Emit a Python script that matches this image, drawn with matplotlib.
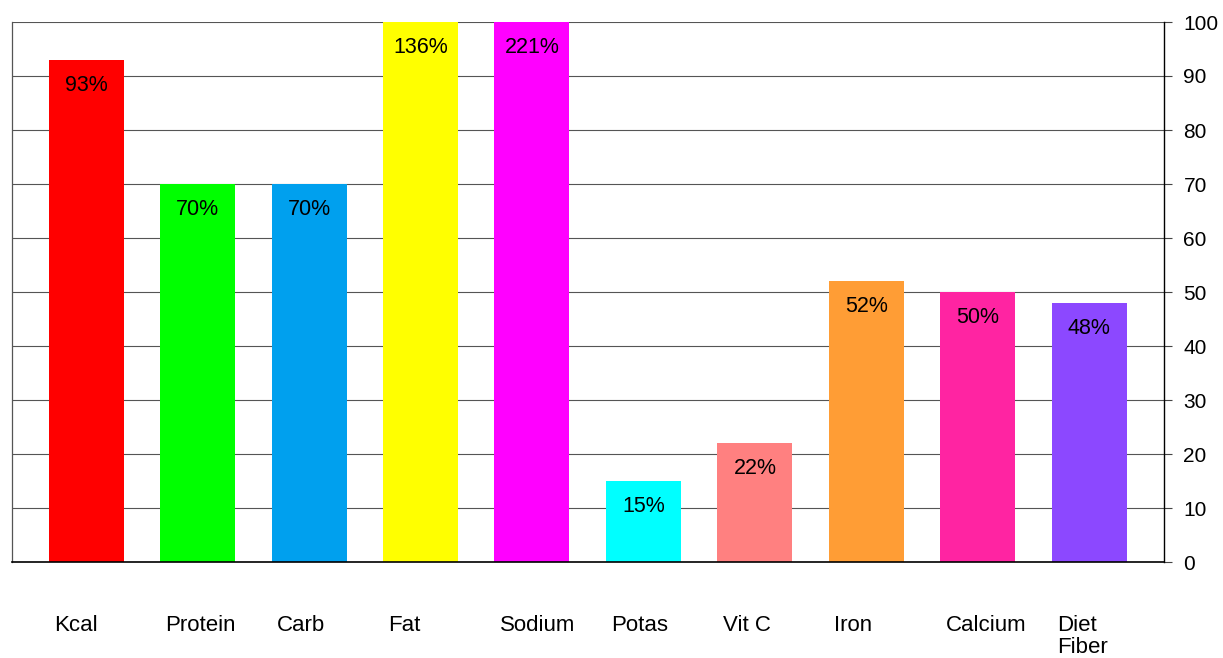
import matplotlib
matplotlib.use("Agg")
import matplotlib.pyplot as plt

categories = ["Kcal", "Protein", "Carb", "Fat", "Sodium", "Potas", "Vit C", "Iron", "Calcium", "Diet\nFiber"]
values = [93, 70, 70, 136, 221, 15, 22, 52, 50, 48]
labels = ["93%", "70%", "70%", "136%", "221%", "15%", "22%", "52%", "50%", "48%"]
colors = ["#FF0000", "#00FF00", "#00A0EE", "#FFFF00", "#FF00FF",
          "#00FFFF", "#FF8080", "#FF9D35", "#FF24A2", "#8C48FF"]
yticks = [0, 10, 20, 30, 40, 50, 60, 70, 80, 90, 100]

plt.rcParams['font.family'] = ['Liberation Sans', 'DejaVu Sans']

fig = plt.figure(figsize=(12.23, 6.58), dpi=100)
ax = fig.add_axes([12/1223, 1-562/658, (1164-12)/1223, (562-22)/658])

x = list(range(len(categories)))
ax.bar(x, values, width=0.673, color=colors, zorder=2)

ax.set_ylim(0, 100)
ax.set_xlim(-0.665, 9.67)
ax.set_yticks(yticks)
ax.yaxis.tick_right()
ax.tick_params(axis='y', direction='out', length=6, width=0.8, color='#444444',
               pad=8, labelsize=15)
ax.set_xticks([])
ax.grid(axis='y', color='#555555', linewidth=0.8, zorder=0)

ax.spines['top'].set_visible(False)
ax.spines['left'].set_color('#555555')
ax.spines['left'].set_linewidth(0.9)
ax.spines['right'].set_color('black')
ax.spines['right'].set_linewidth(1.0)
ax.spines['bottom'].set_color('black')
ax.spines['bottom'].set_linewidth(1.2)

for xi, v, lab in zip(x, values, labels):
    ax.annotate(lab, xy=(xi, min(v, 100)), xytext=(0, -18.5), textcoords='offset points',
                ha='center', va='center', fontsize=15.5, color='black', zorder=3)

for xi, cat in zip(x, categories):
    ax.annotate(cat, xy=(xi - 0.29, 0), xytext=(0, -38), textcoords='offset points',
                ha='left', va='top', fontsize=16, color='black', linespacing=1.1,
                annotation_clip=False)

fig.savefig("out.png", dpi=100)
